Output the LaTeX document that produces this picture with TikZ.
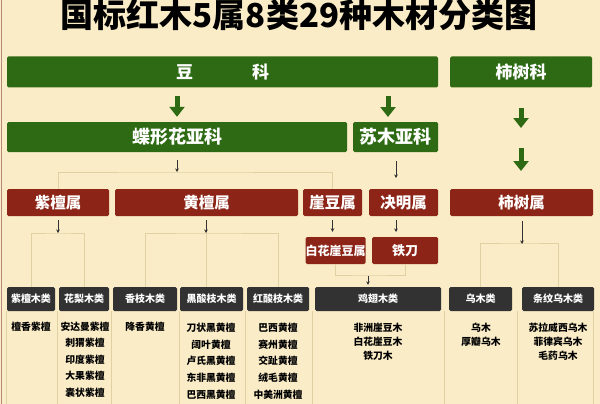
\documentclass[tikz,border=0pt]{standalone}
\usepackage{fontspec}
\setmainfont{Noto Sans CJK SC}
\usetikzlibrary{arrows.meta}
\definecolor{bg}{HTML}{FAECC6}
\definecolor{gr}{HTML}{2E6A13}
\definecolor{rd}{HTML}{8C2517}
\definecolor{dk}{HTML}{323232}
\definecolor{ln}{HTML}{E0D0A2}
\definecolor{bd}{HTML}{B8877C}
\begin{document}
\begin{tikzpicture}[x=1pt,y=-1pt,
  box/.style={rounded corners=1.5pt, inner sep=0pt, text=white},
  gbox/.style={box, fill=gr, minimum height=31pt, font=\bfseries\fontsize{17}{17}\selectfont},
  rbox/.style={box, fill=rd, minimum height=27pt, font=\bfseries\fontsize{15.5}{15.5}\selectfont},
  cbox/.style={box, fill=dk, minimum height=24pt, font=\bfseries\fontsize{10}{10}\selectfont},
  sp/.style={inner sep=0pt, anchor=north, align=center, text=black, font=\bfseries\fontsize{9.8}{16.6}\selectfont},
  spn/.style={sp, font=\bfseries\fontsize{9.8}{14}\selectfont},
  garrow/.style={draw=gr, line width=5pt, -{Triangle[length=10pt,width=15pt]}},
  tarrow/.style={draw=dk, line width=0.7pt, -{Stealth[length=3.5pt,width=3.5pt]}},
  conn/.style={draw=ln, line width=0.9pt},
  grid/.style={draw=ln, line width=0.8pt}
]
\fill[bg] (0,0) rectangle (600,404);
\useasboundingbox (0,0) rectangle (600,404);
\draw[draw=bd, line width=1pt] (1.2,0) -- (1.2,404);

% title
\node[inner sep=0pt, font=\bfseries\fontsize{33}{33}\selectfont] (title) at (299,15) {国标红木5属8类29种木材分类图};

% families
\node[gbox, minimum width=431pt] (dou) at (222.5,72) {豆\hspace{59pt}科};
\node[gbox, minimum width=142pt] (shike) at (521,72) {柿树科};
% subfamilies
\node[gbox, minimum width=340pt, minimum height=30pt, font=\bfseries\fontsize{18}{18}\selectfont] (die) at (177,137) {蝶形花亚科};
\node[gbox, minimum width=85pt, minimum height=30pt, font=\bfseries\fontsize{18}{18}\selectfont] (su) at (395.5,137) {苏木亚科};
% genera
\node[rbox, minimum width=102pt] (zitan) at (58,202.5) {紫檀属};
\node[rbox, minimum width=183pt] (huang) at (206.5,202.5) {黄檀属};
\node[rbox, minimum width=59pt] (yadou) at (332.5,202.5) {崖豆属};
\node[rbox, minimum width=69pt] (jue) at (403.5,202.5) {决明属};
\node[rbox, minimum width=143pt] (shishu) at (521.5,202.5) {柿树属};
\node[rbox, minimum width=59pt, font=\bfseries\fontsize{12}{12}\selectfont] (baihua) at (335.5,250.5) {白花崖豆属};
\node[rbox, minimum width=66pt, font=\bfseries\fontsize{13}{13}\selectfont] (tiedao) at (405,250.5) {铁刀};
% classes
\node[cbox, minimum width=48pt] (c1) at (31,299) {紫檀木类};
\node[cbox, minimum width=50pt] (c2) at (84,299) {花梨木类};
\node[cbox, minimum width=64pt] (c3) at (145,299) {香枝木类};
\node[cbox, minimum width=63pt] (c4) at (211.5,299) {黑酸枝木类};
\node[cbox, minimum width=62pt] (c5) at (278,299) {红酸枝木类};
\node[cbox, minimum width=126pt] (c6) at (378,299) {鸡翅木类};
\node[cbox, minimum width=63pt] (c7) at (480.5,299) {乌木类};
\node[cbox, minimum width=72pt] (c8) at (558,299) {条纹乌木类};

% column grid lines
\foreach \gx in {6,57,111,179,245,312,444,517,593}
  \draw[grid] (\gx,311) -- (\gx,404);

% species
\node[sp] (s1) at (31,321.5) {檀香紫檀};
\node[sp] (s2) at (85,321.5) {安达曼紫檀\\刺猬紫檀\\印度紫檀\\大果紫檀\\囊状紫檀};
\node[sp] (s3) at (145,321.5) {降香黄檀};
\node[sp] (s4) at (211,323) {刀状黑黄檀\\阔叶黄檀\\卢氏黑黄檀\\东非黑黄檀\\巴西黑黄檀};
\node[sp] (s5) at (278,323) {巴西黄檀\\赛州黄檀\\交趾黄檀\\绒毛黄檀\\中美洲黄檀};
\node[spn] (s6) at (378,323) {非洲崖豆木\\白花崖豆木\\铁刀木};
\node[spn] (s7) at (481,323) {乌木\\厚瓣乌木};
\node[spn] (s8) at (558,323) {苏拉威西乌木\\菲律宾乌木\\毛药乌木};

% green arrows
\coordinate (a1s) at (177,96);
\coordinate (a2s) at (388,96);
\coordinate (a2e) at (388,117);
\coordinate (a3s) at (521,108);
\coordinate (a3e) at (521,128);
\coordinate (a4s) at (521,148);
\draw[garrow] (a1s) -- ([yshift=5pt]die.north);
\draw[garrow] (a2s) -- (a2e);
\draw[garrow] (a3s) -- (a3e);
\draw[garrow] (a4s) -- (521,171);

% connector lines (tan)
\coordinate (j1) at (177,172);
\draw[conn] (zitan.north) |- (j1) -| (yadou.north);
\coordinate (j2) at (58,233);
\draw[conn] (c1.north) |- (j2) -| (c2.north);
\coordinate (j3) at (206,233);
\draw[conn] (c3.north) |- (j3) -| (c5.north);
\draw[conn] (j3) -- (c4.north -| j3);
\coordinate (j4) at (522,243);
\draw[conn] (c7.north) |- (j4) -| (c8.north);
\coordinate (j5) at (368,275);
\draw[conn] (baihua.south) |- (j5) -| (tiedao.south);

% thin arrows
\draw[tarrow] ([yshift=-8pt]die.south) -- (j1);
\coordinate (b1) at (396,161);
\draw[tarrow] (b1) -- (396,178);
\draw[tarrow] ([yshift=-4pt]zitan.south) -- (j2);
\draw[tarrow] ([yshift=-4pt]huang.south -| j3) -- (j3);
\draw[tarrow] ([yshift=-4pt]yadou.south) -- ([yshift=5pt]baihua.north -| yadou.south);
\coordinate (b2) at (396,220);
\draw[tarrow] (b2) -- (396,232);
\draw[tarrow] ([yshift=-5pt]shishu.south -| j4) -- ([yshift=-1pt]j4);
\draw[tarrow] ([yshift=-1pt]j5) -- ([yshift=2pt]c6.north -| j5);
\end{tikzpicture}
\end{document}
